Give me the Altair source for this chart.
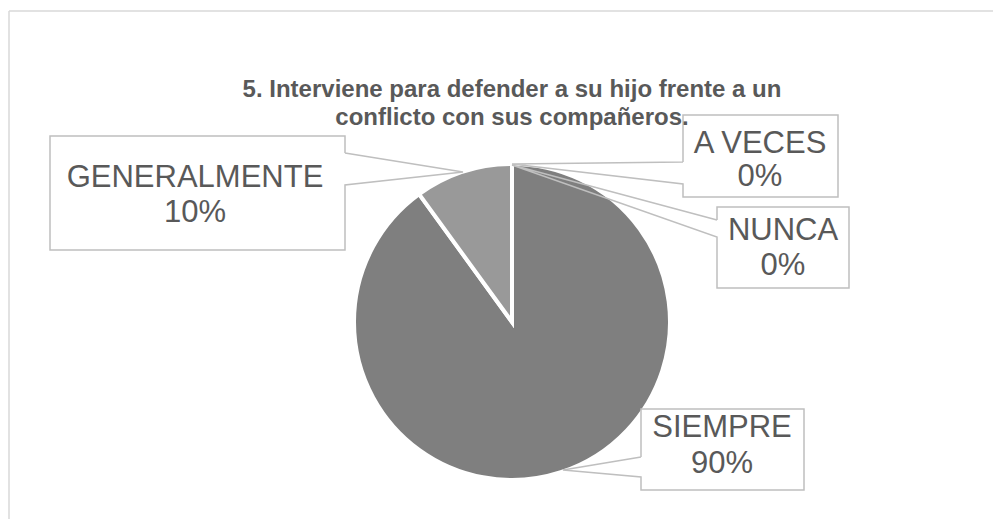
import altair as alt
import pandas as pd

# ---- data ----
categories = ["SIEMPRE", "GENERALMENTE", "A VECES", "NUNCA"]
percent = [90, 10, 0, 0]
pct_labels = ["90%", "10%", "0%", "0%"]
slice_colors = ["#7f7f7f", "#999999", "#a5a5a5", "#bfbfbf"]
title_lines = ["5. Interviene para defender a su hijo frente a un",
               "conflicto con sus compañeros."]

# ---- layout (page pixels) ----
W, H = 985, 511
OFF = 8
CX, CY, R = 512, 322, 158
TEXT_COLOR = "#595959"
LINE_COLOR = "#bfbfbf"
FONT = "Liberation Sans"

callout_layout = {
    "GENERALMENTE": dict(box=(50, 136, 345, 250), side="right", att=(153, 185), tip=(463, 172), tx=195, b=(187, 222)),
    "A VECES": dict(box=(683, 115, 838, 197), side="left", att=(162, 184), tip=(512, 164), tx=760, b=(153, 186)),
    "NUNCA": dict(box=(717, 207, 849, 288), side="left", att=(220, 237), tip=(512, 165), tx=783, b=(240, 275)),
    "SIEMPRE": dict(box=(641, 409, 804, 490), side="left", att=(457, 477), tip=(563, 470), tx=722, b=(437, 473)),
}

xs = alt.Scale(domain=[OFF, OFF + W], nice=False, zero=False)
ys = alt.Scale(domain=[OFF, OFF + H], nice=False, zero=False, reverse=True)

# pie
pie_df = pd.DataFrame({"cat": categories, "value": percent, "idx": list(range(len(categories)))})
pie = alt.Chart(pie_df).mark_arc(radius=R, stroke="white", strokeWidth=4).encode(
    theta=alt.Theta("value:Q", stack=True),
    order=alt.Order("idx:Q"),
    color=alt.Color("cat:N", scale=alt.Scale(domain=categories, range=slice_colors), legend=None),
    x=alt.value(CX - OFF),
    y=alt.value(CY - OFF),
)

# frame
frame_df = pd.DataFrame({"x": [9, 9], "y": [11, 11], "x2": [OFF + W, 9], "y2": [11, OFF + H]})
frame = alt.Chart(frame_df).mark_rule(color="#d9d9d9", strokeWidth=1.5).encode(
    x=alt.X("x:Q", scale=xs, axis=None), y=alt.Y("y:Q", scale=ys, axis=None),
    x2="x2:Q", y2="y2:Q",
)

# callout outlines
rows = []
for cat in categories:
    c = callout_layout[cat]
    L, T, Rr, B = c["box"]
    a1, a2 = c["att"]
    tx, ty = c["tip"]
    if c["side"] == "right":
        pts = [(Rr, a1), (tx, ty), (Rr, a2), (Rr, B), (L, B), (L, T), (Rr, T), (Rr, a1)]
    else:
        pts = [(L, a1), (tx, ty), (L, a2), (L, B), (Rr, B), (Rr, T), (L, T), (L, a1)]
    for i, (px, py) in enumerate(pts):
        rows.append({"cat": cat, "o": i, "x": px, "y": py})
poly_df = pd.DataFrame(rows)
outlines = alt.Chart(poly_df).mark_line(color=LINE_COLOR, strokeWidth=1.5, strokeJoin="miter").encode(
    x=alt.X("x:Q", scale=xs, axis=None), y=alt.Y("y:Q", scale=ys, axis=None),
    detail="cat:N", order="o:Q",
)

# label texts
trows = []
for cat, pl in zip(categories, pct_labels):
    c = callout_layout[cat]
    trows.append({"t": cat, "x": c["tx"], "y": c["b"][0]})
    trows.append({"t": pl, "x": c["tx"], "y": c["b"][1]})
text_df = pd.DataFrame(trows)
labels = alt.Chart(text_df).mark_text(
    font=FONT, fontSize=31, color=TEXT_COLOR, align="center", baseline="alphabetic"
).encode(
    x=alt.X("x:Q", scale=xs, axis=None), y=alt.Y("y:Q", scale=ys, axis=None), text="t:N"
)

# title
title_df = pd.DataFrame({"t": title_lines, "x": [512, 512], "y": [97, 125]})
title = alt.Chart(title_df).mark_text(
    font=FONT, fontSize=24, fontWeight="bold",
    color=TEXT_COLOR, align="center", baseline="alphabetic"
).encode(
    x=alt.X("x:Q", scale=xs, axis=None), y=alt.Y("y:Q", scale=ys, axis=None), text="t:N"
)

chart = alt.layer(frame, pie, outlines, labels, title).properties(
    width=W, height=H, padding=0, autosize="none", background="white"
).configure_view(stroke=None)

chart.save("out.html", embed_options={"renderer": "svg", "actions": False})
